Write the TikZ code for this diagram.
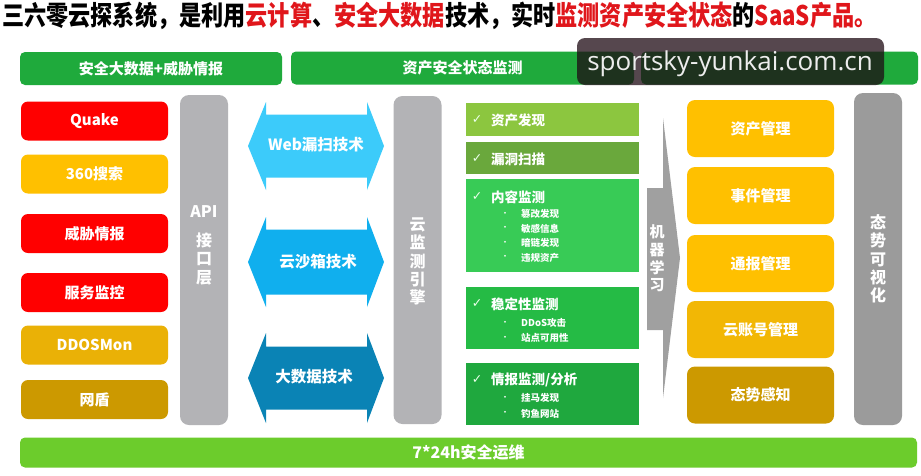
\documentclass[tikz,border=0pt]{standalone}
\usepackage{fontspec}
\usepackage{graphicx}
\newfontfamily\cjk{Noto Sans CJK SC}
\newfontfamily\dejavu{DejaVu Sans}
\newfontfamily\wmfont{Open Sans}
\definecolor{tred}{HTML}{E0161B}
\definecolor{hdrgreen}{HTML}{1FAA3C}
\definecolor{qred}{HTML}{FF0000}
\definecolor{yel}{HTML}{FFC000}
\definecolor{yeltwo}{HTML}{EAB106}
\definecolor{ochre}{HTML}{CC9900}
\definecolor{lgray}{HTML}{B3B3B6}
\definecolor{dgray}{HTML}{9B9B9B}
\definecolor{mlgray}{HTML}{A0A0A0}
\definecolor{arrA}{HTML}{3CCBFA}
\definecolor{arrB}{HTML}{10AFEE}
\definecolor{arrC}{HTML}{0A83B5}
\definecolor{gA}{HTML}{8CC63F}
\definecolor{gB}{HTML}{6AA83C}
\definecolor{gC}{HTML}{38CB56}
\definecolor{gD}{HTML}{25BB45}
\definecolor{gE}{HTML}{1FA83E}
\definecolor{yelacc}{HTML}{F2B705}
\definecolor{botgreen}{HTML}{6CCC2C}
\definecolor{wmdark}{RGB}{30,10,20}
\newcommand\dblarrow[4]{\fill[#1] (248,#2) -- (266,{#2-#3}) -- (266,{#2-#4}) -- (367,{#2-#4}) -- (367,{#2-#3}) -- (384,#2) -- (367,{#2+#3}) -- (367,{#2+#4}) -- (266,{#2+#4}) -- (266,{#2+#3}) -- cycle;}
\begin{document}
\begin{tikzpicture}[x=1pt,y=-1pt,
  hdr/.style={fill=hdrgreen, rounded corners=5pt, minimum height=33pt, inner sep=0pt, text=white, font=\cjk\bfseries\fontsize{15}{17}\selectfont},
  lbox/.style={rounded corners=7pt, minimum width=147pt, minimum height=39pt, inner sep=0pt, text=white, font=\cjk\bfseries\fontsize{15}{17}\selectfont},
  col/.style={rounded corners=9pt, minimum width=48pt, inner sep=0pt},
  vtxt/.style={text=white, align=center, inner sep=0pt, font=\cjk\bfseries\fontsize{16}{18.3}\selectfont},
  gbox/.style={minimum width=173pt, inner sep=0pt},
  gtitle/.style={anchor=west, inner sep=0pt, text=white, font=\cjk\bfseries\fontsize{13.5}{15}\selectfont},
  gitem/.style={anchor=west, inner sep=0pt, text=white, font=\cjk\bfseries\fontsize{9.5}{11}\selectfont},
  chk/.style={inner sep=0pt, text=white!92!green, font=\dejavu\fontsize{12.5}{13}\selectfont},
  bul/.style={inner sep=0pt, text=white, font=\cjk\fontsize{8.5}{9}\selectfont},
  rbox/.style={rounded corners=8pt, minimum width=147pt, minimum height=57pt, inner sep=0pt, text=white, font=\cjk\bfseries\fontsize{15}{17}\selectfont},
  arrtxt/.style={text=white, inner sep=0pt, font=\cjk\bfseries\fontsize{15.5}{17}\selectfont}
]
\fill[white] (0,0) rectangle (921,475);
\useasboundingbox (0,0) rectangle (921,475);

% title
\node[anchor=west, inner sep=0pt] (title) at (2,15.5) {\scalebox{0.82}[1]{\cjk\bfseries\fontsize{27}{30}\selectfont 三六零云探系统，是利用\textcolor{tred}{云计算}、\textcolor{tred}{安全大数据}技术，实时\textcolor{tred}{监测资产安全状态}的\textcolor{tred}{SaaS产品。}}};

% headers
\node[hdr, minimum width=262pt] (h1) at (151,68.5) {安全大数据+威胁情报};
\node[hdr, minimum width=343pt] (h2) at (462.5,68) {资产安全状态监测};
\node[hdr, minimum width=277pt] (h3) at (779.5,68) {};

% left sources
\node[lbox, fill=qred] (quake) at (94.5,121) {Quake};
\node[lbox, fill=yel] (s360) at (94.5,174) {360搜索};
\node[lbox, fill=qred] (threat) at (94.5,233.5) {威胁情报};
\node[lbox, fill=qred] (svc) at (94.5,292.5) {服务监控};
\node[lbox, fill=yeltwo] (ddos) at (94.5,345) {DDOSMon};
\node[lbox, fill=ochre] (wd) at (94.5,399.5) {网盾};

% API column
\node[col, fill=lgray, minimum height=330pt] (api) at (204,260) {};
\node[vtxt] (apit) at (204,212) {API};
\node[vtxt] (apic) at (204,259) {接\\口\\层};

% double arrows
\dblarrow{arrA}{146}{44}{31.5}
\dblarrow{arrB}{262}{45}{32.5}
\dblarrow{arrC}{378}{45}{31.5}
\node[arrtxt] (web) at (316,145) {Web漏扫技术};
\node[arrtxt] (sand) at (318,262) {云沙箱技术};
\node[arrtxt] (bigd) at (314,377) {大数据技术};

% cloud engine column
\node[col, fill=lgray, minimum height=328pt] (eng) at (417.5,260) {};
\node[vtxt] (engt) at (417.5,261.5) {云\\监\\测\\引\\擎};

% green monitoring boxes
\node[gbox, fill=gA, minimum height=33pt] (g1) at (552.5,119.5) {};
\node[gbox, fill=gB, minimum height=32pt] (g2) at (552.5,158) {};
\node[gbox, fill=gC, minimum height=93pt] (g3) at (552.5,225.5) {};
\node[gbox, fill=gD, minimum height=62pt] (g4) at (552.5,318) {};
\node[gbox, fill=gE, minimum height=62pt] (g5) at (552.5,394) {};

\node[chk] (c1) at (477,120) {✓};
\node[gtitle] (t1) at (491,120) {资产发现};
\node[chk] (c2) at (477,159) {✓};
\node[gtitle] (t2) at (491,159) {漏洞扫描};
\node[chk] (c3) at (477,197) {✓};
\node[gtitle] (t3) at (491,197) {内容监测};
\node[bul] (b31) at (505,214) {•};
\node[gitem] (i31) at (521,214) {篡改发现};
\node[bul] (b32) at (505,228.5) {•};
\node[gitem] (i32) at (521,228.5) {敏感信息};
\node[bul] (b33) at (505,243) {•};
\node[gitem] (i33) at (521,243) {暗链发现};
\node[bul] (b34) at (505,257.5) {•};
\node[gitem] (i34) at (521,257.5) {违规资产};
\node[chk] (c4) at (477,304) {✓};
\node[gtitle] (t4) at (491,304) {稳定性监测};
\node[bul] (b41) at (505,323) {•};
\node[gitem] (i41) at (521,323) {DDoS攻击};
\node[bul] (b42) at (505,338) {•};
\node[gitem] (i42) at (521,338) {站点可用性};
\node[chk] (c5) at (477,380) {✓};
\node[gtitle] (t5) at (491,380) {情报监测/分析};
\node[bul] (b51) at (505,398) {•};
\node[gitem] (i51) at (521,398) {挂马发现};
\node[bul] (b52) at (505,413.5) {•};
\node[gitem] (i52) at (521,413.5) {钓鱼网站};

% machine learning arrow
\fill[mlgray] (647,188) -- (663,188) -- (663,118) -- (680,258) -- (663,398) -- (663,330) -- (647,330) -- cycle;
\node[vtxt, font=\cjk\bfseries\fontsize{15}{17.7}\selectfont] (ml) at (657,258.5) {机\\器\\学\\习};

% right management boxes
\node[rbox, fill=yel] (r1) at (760.5,128.5) {资产管理};
\node[rbox, fill=yel] (r2) at (760.5,195.5) {事件管理};
\node[rbox, fill=yel] (r3) at (760.5,263.5) {通报管理};
\node[rbox, fill=yelacc] (r4) at (760.5,329.5) {云账号管理};
\node[rbox, fill=ochre] (r5) at (760.5,395) {态势感知};

% visualisation column
\node[col, fill=dgray, minimum height=332pt] (vis) at (878,259) {};
\node[vtxt] (vist) at (878,259) {态\\势\\可\\视\\化};

% bottom bar
\node[hdr, fill=botgreen, minimum width=897pt, minimum height=30pt, font=\cjk\bfseries\fontsize{16}{18}\selectfont] (ops) at (468.5,452.5) {7*24h安全运维};

% watermark overlay
\fill[wmdark, fill opacity=0.75, rounded corners=8pt] (577,38) rectangle (884,85);
\node[inner sep=0pt, text=white!93!black, font=\wmfont\fontsize{26}{30}\selectfont] (wm) at (730,64) {sportsky-yunkai.com.cn};
\end{tikzpicture}
\end{document}
